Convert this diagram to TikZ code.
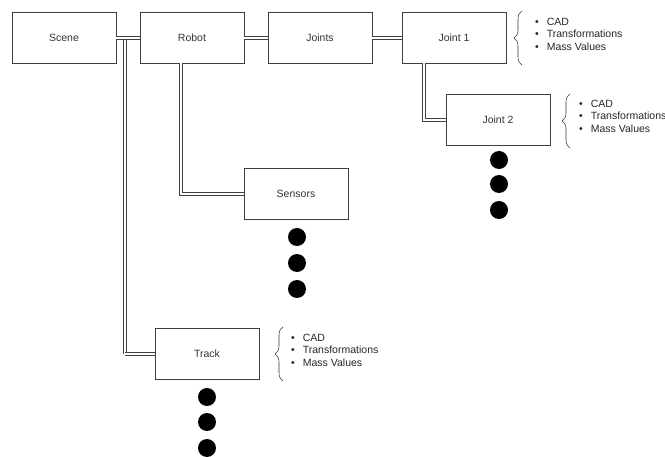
\documentclass[tikz,border=0pt]{standalone}
\usepackage{fontspec}
\setmainfont{Liberation Sans}
\usetikzlibrary{decorations.pathreplacing}

\tikzset{
  part/.style={draw=black!75,fill=white,line width=0.7pt,minimum width=104pt,
    minimum height=51pt,inner sep=0pt,text=black!80,
    font=\fontsize{10.5}{12.5}\selectfont},
  link/.style={draw=black!75,line width=0.55pt,double=white,double distance=2.2pt},
  dot/.style={circle,fill=black,minimum size=18pt,inner sep=0pt},
  curly/.style={decorate,decoration={brace,amplitude=8pt},draw=black!80,line width=0.55pt},
  props/.style={anchor=west,inner sep=0pt,align=left,text=black!85,
    font=\fontsize{10.5}{12.5}\selectfont}
}
\newcommand{\partprops}{\textbullet\hspace{8pt}CAD\\
  \textbullet\hspace{8pt}Transformations\\
  \textbullet\hspace{8pt}Mass Values}

\begin{document}
\begin{tikzpicture}[x=1pt,y=-1pt]
    \useasboundingbox[fill=white] (0,0) rectangle (665,457);

    \node[part] (scene) at (64,38) {Scene};
    \node[part] (robot) at (192,38) {Robot};
    \node[part] (joints) at (320,38) {Joints};
    \node[part] (joint1) at (454,38) {Joint 1};
    \node[part] (joint2) at (498,120) {Joint 2};
    \node[part] (sensors) at (296,194) {Sensors};
    \node[part] (track) at (207,354) {Track};

    \coordinate (scenefork) at (125,39);
    \coordinate (trackbend) at (125,354);
    \coordinate (robotdrop) at (181,63);
    \coordinate (jointdrop) at (424,63);

    % tree links
    \draw[link] (trackbend) -- (scenefork);
    \draw[link] (trackbend) -- (track);
    \draw[link] (robotdrop) |- (sensors);
    \draw[link] (jointdrop) |- (joint2);
    \draw[link] (scene) -- (robot);
    \draw[link] (robot) -- (joints);
    \draw[link] (joints) -- (joint1);

    % property lists
    \draw[curly] (522,65) -- (522,11);
    \node[props] (joint1props) at (535,34) {\partprops};
    \draw[curly] (570,148) -- (570,94);
    \node[props] (joint2props) at (579,116) {\partprops};
    \draw[curly] (283,381) -- (283,327);
    \node[props] (trackprops) at (291,350) {\partprops};

    % dots
    \foreach \k/\y in {0/160,1/184,2/210}
      \node[dot] (joint2dot\k) at (499,\y) {};
    \foreach \k/\y in {0/237,1/263,2/289}
      \node[dot] (sensordot\k) at (297,\y) {};
    \foreach \k/\y in {0/397,1/422,2/448}
      \node[dot] (trackdot\k) at (207,\y) {};
\end{tikzpicture}
\end{document}
